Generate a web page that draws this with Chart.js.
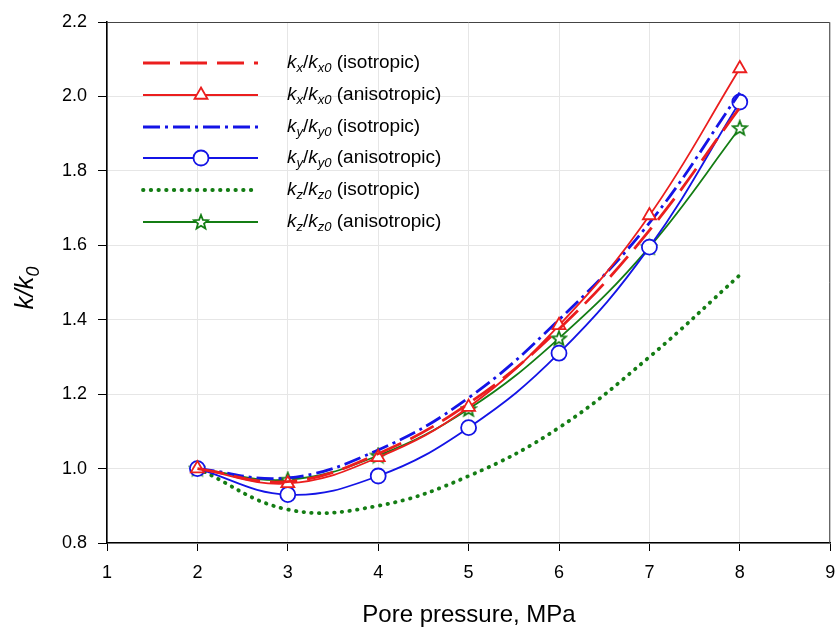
<!DOCTYPE html>
<html>
<head>
<meta charset="utf-8">
<script src="https://cdn.jsdelivr.net/npm/chart.js@4"></script>
<style>
  body { margin: 0; background: #fff; overflow: hidden; }
</style>
</head>
<body>
<canvas id="perm-chart" width="840" height="628"></canvas>
<script>
// DATA
const pressure = [2, 3, 4, 5, 6, 7, 8];
const kxIso = [1.0, 0.965, 1.04, 1.175, 1.375, 1.64, 1.97];
const kxAniso = [1.0, 0.96, 1.03, 1.165, 1.385, 1.68, 2.075];
const kyIso = [1.0, 0.975, 1.05, 1.19, 1.4, 1.66, 2.01];
const kyAniso = [1.0, 0.93, 0.98, 1.11, 1.31, 1.595, 1.985];
const kzIso = [1.0, 0.89, 0.9, 0.98, 1.11, 1.3, 1.52];
const kzAniso = [1.0, 0.97, 1.035, 1.16, 1.35, 1.595, 1.915];

const xTitle = "Pore pressure, MPa";
const legendAxes = ["x", "x", "y", "y", "z", "z"];
const legendModes = ["isotropic", "anisotropic", "isotropic", "anisotropic", "isotropic", "anisotropic"];

const FONT = "'Liberation Sans', Arial, sans-serif";

function toPoints(values) {
  return pressure.map((p, i) => ({ x: p, y: values[i] }));
}

// open 5-point star marker
function makeStar(color) {
  const c = document.createElement("canvas");
  c.width = 18;
  c.height = 18;
  const g = c.getContext("2d");
  g.strokeStyle = color;
  g.fillStyle = "#fff";
  g.lineWidth = 1.8;
  g.beginPath();
  for (let i = 0; i < 10; i++) {
    const r = i % 2 === 0 ? 7.5 : 3.2;
    const a = -Math.PI / 2 + (i * Math.PI) / 5;
    const px = 9 + r * Math.cos(a);
    const py = 9.5 + r * Math.sin(a);
    if (i === 0) g.moveTo(px, py);
    else g.lineTo(px, py);
  }
  g.closePath();
  g.fill();
  g.stroke();
  return c;
}

const red = "rgb(235, 30, 30)";
const blue = "rgb(20, 20, 230)";
const green = "rgb(20, 125, 20)";

const datasets = [
  {
    data: toPoints(kxIso),
    borderColor: red,
    borderWidth: 2.8,
    borderDash: [27, 10],
    pointRadius: 0,
  },
  {
    data: toPoints(kxAniso),
    borderColor: red,
    borderWidth: 1.8,
    pointStyle: "triangle",
    pointRadius: 7.5,
    pointBorderWidth: 1.8,
    pointBackgroundColor: "#fff",
  },
  {
    data: toPoints(kyIso),
    borderColor: blue,
    borderWidth: 2.8,
    borderDash: [17, 5, 3, 5],
    pointRadius: 0,
  },
  {
    data: toPoints(kyAniso),
    borderColor: blue,
    borderWidth: 1.8,
    pointStyle: "circle",
    pointRadius: 7.5,
    pointBorderWidth: 1.8,
    pointBackgroundColor: "#fff",
  },
  {
    data: toPoints(kzIso),
    borderColor: green,
    borderWidth: 3.8,
    borderDash: [0.5, 7.2],
    borderCapStyle: "round",
    pointRadius: 0,
  },
  {
    data: toPoints(kzAniso),
    borderColor: green,
    borderWidth: 1.8,
    pointStyle: makeStar(green),
    pointRadius: 8,
  },
];
datasets.forEach((d) => {
  d.tension = 0.4;
  d.fill = false;
  d.pointBorderColor = d.borderColor;
});

// draws text like k_x/k_x0 with subscripts
function richText(ctx, x, y, parts) {
  let cx = x;
  parts.forEach((p) => {
    const size = p.sub ? 13 : 19;
    ctx.font = (p.it ? "italic " : "") + size + "px " + FONT;
    ctx.fillText(p.t, cx, y + (p.sub ? 5 : 0));
    cx += ctx.measureText(p.t).width;
  });
  return cx;
}

const decorPlugin = {
  id: "decor",
  afterDraw(chart) {
    const ctx = chart.ctx;
    const a = chart.chartArea;
    ctx.save();

    // top / right frame
    ctx.strokeStyle = "#444";
    ctx.lineWidth = 1;
    ctx.beginPath();
    ctx.moveTo(a.left, a.top + 0.5);
    ctx.lineTo(a.right - 0.5, a.top + 0.5);
    ctx.lineTo(a.right - 0.5, a.bottom);
    ctx.stroke();

    // axis titles
    ctx.fillStyle = "#000";
    ctx.textBaseline = "alphabetic";
    ctx.textAlign = "center";
    ctx.font = "24px " + FONT;
    ctx.fillText(xTitle, 469, 622);

    ctx.save();
    ctx.translate(33, 288);
    ctx.rotate(-Math.PI / 2);
    ctx.textAlign = "left";
    ctx.font = "italic 26px " + FONT;
    const w1 = ctx.measureText("k/k").width;
    ctx.font = "italic 18px " + FONT;
    const w2 = ctx.measureText("0").width;
    let sx = -(w1 + w2) / 2;
    ctx.font = "italic 26px " + FONT;
    ctx.fillText("k/k", sx, 0);
    ctx.font = "italic 18px " + FONT;
    ctx.fillText("0", sx + w1, 6);
    ctx.restore();

    // legend
    const rowY = [63, 95, 127, 158, 190, 222];
    ctx.textAlign = "left";
    ctx.textBaseline = "middle";
    datasets.forEach((d, i) => {
      const y = rowY[i];
      ctx.save();
      ctx.strokeStyle = d.borderColor;
      ctx.lineWidth = d.borderWidth;
      ctx.setLineDash(d.borderDash || []);
      ctx.lineCap = d.borderCapStyle || "butt";
      ctx.beginPath();
      ctx.moveTo(143, y);
      ctx.lineTo(258, y);
      ctx.stroke();
      ctx.restore();
      if (d.pointRadius > 0) {
        ctx.save();
        ctx.strokeStyle = d.borderColor;
        ctx.fillStyle = "#fff";
        ctx.lineWidth = d.pointBorderWidth || 1.8;
        Chart.helpers.drawPoint(ctx, { pointStyle: d.pointStyle, radius: d.pointRadius, borderWidth: ctx.lineWidth }, 201, y);
        ctx.restore();
      }
      const ax = legendAxes[i];
      ctx.fillStyle = "#000";
      richText(ctx, 287, y, [
        { t: "k", it: true },
        { t: ax, it: true, sub: true },
        { t: "/", it: false },
        { t: "k", it: true },
        { t: ax + "0", it: true, sub: true },
        { t: " (" + legendModes[i] + ")", it: false },
      ]);
    });

    ctx.restore();
  },
};

const config = {
  type: "line",
  data: { datasets: datasets },
  options: {
    responsive: false,
    animation: false,
    layout: { padding: { top: 22, right: 5, left: 0, bottom: 0 } },
    scales: {
      x: {
        type: "linear",
        min: 1,
        max: 9,
        ticks: { stepSize: 1, color: "#000", font: { size: 18, family: FONT }, padding: 11 },
        grid: { color: "#e6e6e6", tickColor: "#000", tickLength: 8 },
        border: { color: "#000", width: 1.6 },
        afterFit(s) {
          s.height = 85;
          s.paddingLeft = 0;
          s.paddingRight = 0;
        },
      },
      y: {
        min: 0.8,
        max: 2.2,
        ticks: {
          stepSize: 0.2,
          color: "#000",
          font: { size: 18, family: FONT },
          padding: 11,
          callback: (v) => v.toFixed(1),
        },
        grid: { color: "#e6e6e6", tickColor: "#000", tickLength: 9 },
        border: { color: "#000", width: 1.6 },
        afterFit(s) {
          s.width = 107;
          s.paddingTop = 0;
          s.paddingBottom = 0;
        },
      },
    },
    plugins: {
      legend: { display: false },
      tooltip: { enabled: false },
    },
  },
  plugins: [decorPlugin],
};

const myChart = new Chart(document.getElementById("perm-chart"), config);
</script>
</body>
</html>
